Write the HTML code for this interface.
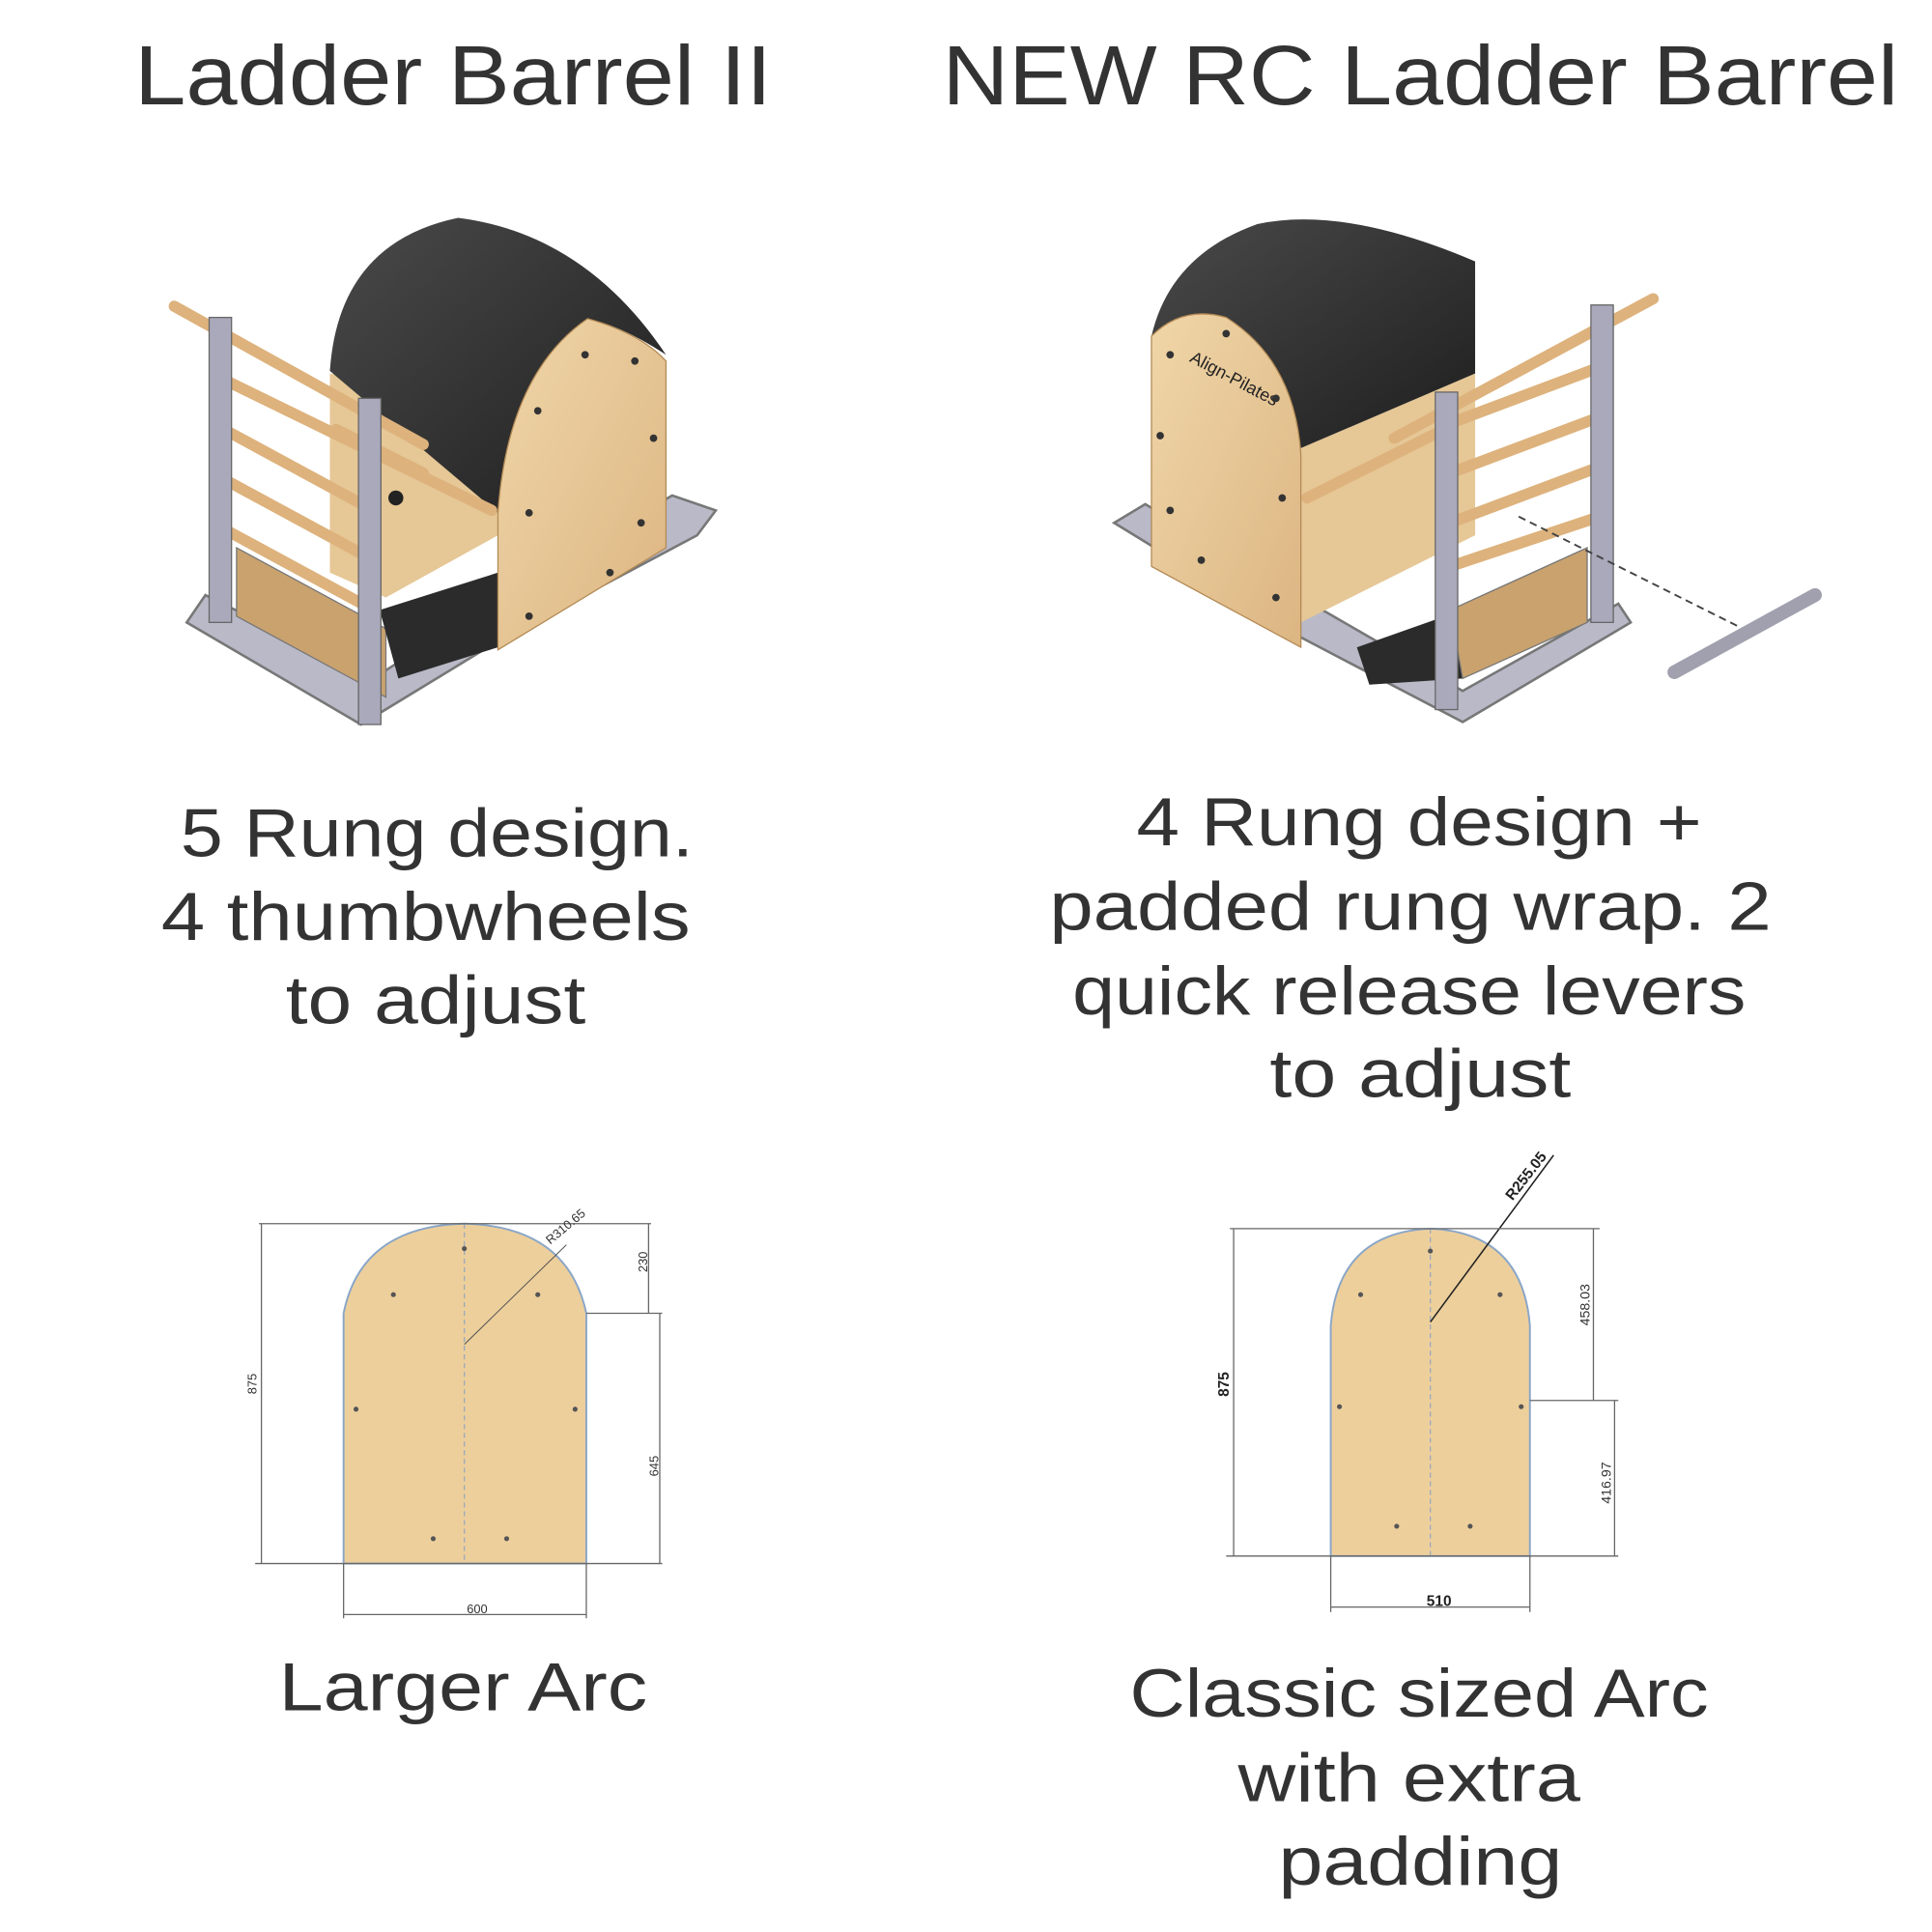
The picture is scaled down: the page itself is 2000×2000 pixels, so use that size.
<!DOCTYPE html>
<html><head><meta charset="utf-8"><style>
html,body{margin:0;padding:0;background:#fff;}
svg{display:block;}
text{font-family:"Liberation Sans",sans-serif;fill:#333;}
</style></head><body>
<svg width="2000" height="2000" viewBox="0 0 1552 1552" xmlns="http://www.w3.org/2000/svg">
<defs>
<linearGradient id="wood" x1="0" y1="0" x2="1" y2="1"><stop offset="0" stop-color="#f0d6a8"/><stop offset="1" stop-color="#dcb582"/></linearGradient>
<linearGradient id="blk" x1="0" y1="0" x2="1" y2="1"><stop offset="0" stop-color="#4a4a4a"/><stop offset="1" stop-color="#1e1e1e"/></linearGradient>
</defs>
<!-- Titles -->
<g font-size="68" text-anchor="middle">
<text x="364" y="84" textLength="512" lengthAdjust="spacingAndGlyphs">Ladder Barrel II</text>
<text x="1141" y="84" textLength="768" lengthAdjust="spacingAndGlyphs">NEW RC Ladder Barrel</text>
</g>

<!-- LEFT CHAIR -->
<g>
<polygon points="150,500 290,582 400,515 560,430 575,410 540,398 400,480 300,545 165,478" fill="#b9b9c8" stroke="#777" stroke-width="2"/>
<polygon points="265,300 265,460 310,480 400,430 400,330" fill="#e6c796"/>
<polygon points="190,440 310,505 310,560 190,495" fill="#c9a26e" stroke="#777"/>
<polygon points="305,490 400,460 400,520 320,545" fill="#2b2b2b"/>
<path d="M265,298 Q272,195 368,175 Q470,188 535,285 Q500,262 472,256 Q412,298 400,412 Z" fill="url(#blk)"/>
<path d="M400,522 L400,412 Q408,300 472,256 Q515,268 535,290 L535,440 Z" fill="url(#wood)" stroke="#b38a55"/>
<g fill="#333"><circle cx="470" cy="285" r="3"/><circle cx="510" cy="290" r="3"/><circle cx="432" cy="330" r="3"/><circle cx="525" cy="352" r="3"/><circle cx="425" cy="412" r="3"/><circle cx="515" cy="420" r="3"/><circle cx="490" cy="460" r="3"/><circle cx="425" cy="495" r="3"/></g>
<g stroke="#ddb27c" stroke-width="9" stroke-linecap="round">
<line x1="140" y1="246" x2="340" y2="357"/>
<line x1="180" y1="305" x2="395" y2="410"/>
<line x1="180" y1="345" x2="300" y2="410"/>
<line x1="180" y1="385" x2="300" y2="450"/>
<line x1="180" y1="425" x2="300" y2="490"/>
<line x1="270" y1="345" x2="340" y2="380"/>
</g>
<rect x="168" y="255" width="18" height="245" fill="#a9a9bb" stroke="#666"/>
<rect x="288" y="320" width="18" height="262" fill="#a9a9bb" stroke="#666"/>
<circle cx="318" cy="400" r="6" fill="#222"/>
</g>

<!-- RIGHT CHAIR -->
<g>
<polygon points="895,420 1045,512 1175,580 1310,500 1300,485 1175,555 1045,480 920,405" fill="#b9b9c8" stroke="#777" stroke-width="2"/>
<polygon points="1045,360 1185,300 1185,430 1045,500" fill="#e6c796"/>
<polygon points="1090,520 1175,490 1175,545 1100,550" fill="#2b2b2b"/>
<polygon points="1165,490 1275,440 1275,500 1175,545" fill="#c9a26e" stroke="#777"/>
<path d="M925,270 Q940,205 1010,180 Q1080,165 1185,210 L1185,300 L1045,360 Q1035,290 980,255 Q950,255 925,270 Z" fill="url(#blk)"/>
<path d="M925,270 Q950,245 985,255 Q1040,290 1045,365 L1045,520 L925,455 Z" fill="url(#wood)" stroke="#b38a55"/>
<text x="955" y="290" font-size="14" transform="rotate(28 955 290)" style="fill:#222">Align-Pilates</text>
<g fill="#333"><circle cx="940" cy="285" r="3"/><circle cx="985" cy="268" r="3"/><circle cx="1025" cy="320" r="3"/><circle cx="932" cy="350" r="3"/><circle cx="1030" cy="400" r="3"/><circle cx="940" cy="410" r="3"/><circle cx="965" cy="450" r="3"/><circle cx="1025" cy="480" r="3"/></g>
<g stroke="#ddb27c" stroke-width="9" stroke-linecap="round">
<line x1="1120" y1="352" x2="1328" y2="240"/>
<line x1="1050" y1="400" x2="1160" y2="345"/>
<line x1="1165" y1="340" x2="1285" y2="295"/>
<line x1="1165" y1="380" x2="1285" y2="335"/>
<line x1="1165" y1="420" x2="1285" y2="375"/>
<line x1="1165" y1="455" x2="1285" y2="415"/>
</g>
<rect x="1153" y="315" width="18" height="255" fill="#a9a9bb" stroke="#666"/>
<rect x="1278" y="245" width="18" height="255" fill="#a9a9bb" stroke="#666"/>
<line x1="1220" y1="415" x2="1400" y2="505" stroke="#444" stroke-width="1.5" stroke-dasharray="6,4"/>
<line x1="1345" y1="540" x2="1458" y2="478" stroke="#a0a0ae" stroke-width="11" stroke-linecap="round"/>
</g>

<!-- Descriptions -->
<g font-size="55" text-anchor="middle">
<text x="351" y="688" textLength="412" lengthAdjust="spacingAndGlyphs">5 Rung design.</text>
<text x="342" y="755" textLength="425" lengthAdjust="spacingAndGlyphs">4 thumbwheels</text>
<text x="350" y="822" textLength="241" lengthAdjust="spacingAndGlyphs">to adjust</text>
<text x="1140" y="679" textLength="454" lengthAdjust="spacingAndGlyphs">4 Rung design +</text>
<text x="1133" y="747" textLength="580" lengthAdjust="spacingAndGlyphs">padded rung wrap. 2</text>
<text x="1132" y="815" textLength="541" lengthAdjust="spacingAndGlyphs">quick release levers</text>
<text x="1141" y="881" textLength="242" lengthAdjust="spacingAndGlyphs">to adjust</text>
<text x="372" y="1374" textLength="296" lengthAdjust="spacingAndGlyphs">Larger Arc</text>
<text x="1140" y="1379" textLength="465" lengthAdjust="spacingAndGlyphs">Classic sized Arc</text>
<text x="1132" y="1447" textLength="275" lengthAdjust="spacingAndGlyphs">with extra</text>
<text x="1141" y="1514" textLength="228" lengthAdjust="spacingAndGlyphs">padding</text>
</g>

<!-- LEFT PANEL DRAWING -->
<g>
<path d="M276,1256 L276,1055 Q290,985 373,983 Q456,985 471,1055 L471,1256 Z" fill="#edcf9c" stroke="#8aa6c8" stroke-width="1.5"/>
<line x1="373" y1="983" x2="373" y2="1256" stroke="#9ab" stroke-dasharray="4,3"/>
<line x1="373" y1="1080" x2="455" y2="1000" stroke="#555" stroke-width="0.8"/>
<g stroke="#666" stroke-width="1" fill="none">
<line x1="208" y1="983" x2="523" y2="983"/><line x1="210" y1="983" x2="210" y2="1256"/><line x1="205" y1="1256" x2="532" y2="1256"/>
<line x1="521" y1="983" x2="521" y2="1055"/><line x1="471" y1="1055" x2="532" y2="1055"/><line x1="530" y1="1055" x2="530" y2="1256"/>
<line x1="276" y1="1256" x2="276" y2="1300"/><line x1="471" y1="1256" x2="471" y2="1300"/><line x1="276" y1="1297" x2="471" y2="1297"/>
</g>
<g fill="#555"><circle cx="316" cy="1040" r="2"/><circle cx="432" cy="1040" r="2"/><circle cx="373" cy="1003" r="2"/><circle cx="286" cy="1132" r="2"/><circle cx="462" cy="1132" r="2"/><circle cx="348" cy="1236" r="2"/><circle cx="407" cy="1236" r="2"/></g>
<text x="206" y="1120" font-size="10" transform="rotate(-90 206 1120)">875</text>
<text x="520" y="1022" font-size="10" transform="rotate(-90 520 1022)">230</text>
<text x="529" y="1186" font-size="10" transform="rotate(-90 529 1186)">645</text>
<text x="375" y="1296" font-size="10">600</text>
<text x="442" y="1000" font-size="10" transform="rotate(-40 442 1000)">R310.65</text>
</g>

<!-- RIGHT PANEL DRAWING -->
<g>
<path d="M1069,1250 L1069,1065 Q1075,990 1149,987 Q1223,990 1229,1065 L1229,1250 Z" fill="#edcf9c" stroke="#8aa6c8" stroke-width="1.5"/>
<line x1="1149" y1="987" x2="1149" y2="1250" stroke="#9ab" stroke-dasharray="4,3"/>
<line x1="1149" y1="1062" x2="1248" y2="928" stroke="#222" stroke-width="1.2"/>
<g stroke="#666" stroke-width="1" fill="none">
<line x1="988" y1="987" x2="1285" y2="987"/><line x1="991" y1="987" x2="991" y2="1250"/><line x1="985" y1="1250" x2="1300" y2="1250"/>
<line x1="1280" y1="987" x2="1280" y2="1125"/><line x1="1229" y1="1125" x2="1300" y2="1125"/><line x1="1297" y1="1125" x2="1297" y2="1250"/>
<line x1="1069" y1="1250" x2="1069" y2="1295"/><line x1="1229" y1="1250" x2="1229" y2="1295"/><line x1="1069" y1="1291" x2="1229" y2="1291"/>
</g>
<g fill="#555"><circle cx="1093" cy="1040" r="2"/><circle cx="1205" cy="1040" r="2"/><circle cx="1149" cy="1005" r="2"/><circle cx="1076" cy="1130" r="2"/><circle cx="1222" cy="1130" r="2"/><circle cx="1122" cy="1226" r="2"/><circle cx="1181" cy="1226" r="2"/></g>
<text x="987" y="1122" font-size="12" font-weight="bold" transform="rotate(-90 987 1122)" style="fill:#222">875</text>
<text x="1277" y="1065" font-size="11" transform="rotate(-90 1277 1065)">458.03</text>
<text x="1294" y="1208" font-size="11" transform="rotate(-90 1294 1208)">416.97</text>
<text x="1146" y="1290" font-size="12" font-weight="bold" style="fill:#222">510</text>
<text x="1215" y="965" font-size="12" font-weight="bold" transform="rotate(-52 1215 965)" style="fill:#222">R255.05</text>
</g>
</svg>
</body></html>
